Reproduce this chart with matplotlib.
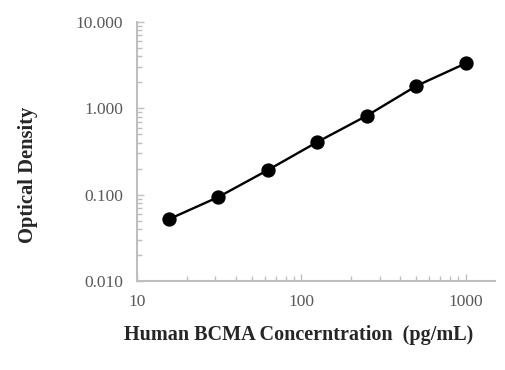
import matplotlib
matplotlib.use('Agg')
import matplotlib.pyplot as plt
from matplotlib.ticker import FixedLocator, LogLocator, NullFormatter

# standard curve: concentration (pg/mL) vs OD
conc = [15.625, 31.25, 62.5, 125, 250, 500, 1000]
od = [0.052, 0.094, 0.193, 0.408, 0.823, 1.82, 3.33]

x_ticks = [10, 100, 1000]
x_labels = ['10', '100', '1000']
y_ticks = [0.01, 0.1, 1, 10]
y_labels = ['0.010', '0.100', '1.000', '10.000']

plt.rcParams['font.family'] = ['Liberation Serif', 'DejaVu Serif']

fig = plt.figure(figsize=(5.06, 3.70), dpi=100)
ax = fig.add_axes([0.2708, 0.2405, 0.978 - 0.2708, 0.9405 - 0.2405])

ax.plot(conc, od, color='black', lw=1.7, marker='o', ms=9.3, mfc='black', mec='black', zorder=3)

ax.set_xscale('log')
ax.set_yscale('log')
ax.set_xlim(10, 1500)
ax.set_ylim(0.01, 10)

ax.xaxis.set_major_locator(FixedLocator(x_ticks))
ax.set_xticklabels(x_labels)
ax.yaxis.set_major_locator(FixedLocator(y_ticks))
ax.set_yticklabels(y_labels)
ax.xaxis.set_minor_locator(LogLocator(base=10, subs=range(2, 10)))
ax.yaxis.set_minor_locator(LogLocator(base=10, subs=range(2, 10)))
ax.xaxis.set_minor_formatter(NullFormatter())
ax.yaxis.set_minor_formatter(NullFormatter())

grey = '#bfbfbf'
for s in ['top', 'right']:
    ax.spines[s].set_visible(False)
for s in ['left', 'bottom']:
    ax.spines[s].set_color(grey)
    ax.spines[s].set_linewidth(1.5)

ax.tick_params(which='major', direction='in', length=5, width=1, color=grey,
               labelsize=12.5, labelcolor='#595959')
ax.tick_params(which='minor', direction='in', length=3.5, width=1, color=grey)
ax.tick_params(axis='y', which='major', pad=10)
ax.tick_params(axis='x', which='major', pad=9)

fig.text(0.056, 0.527, 'Optical Density', rotation=90, ha='center', va='center',
         fontsize=14.8, fontweight='bold', color='#262626')
fig.text(0.245, 0.095, 'Human BCMA Concerntration  (pg/mL)', ha='left', va='center',
         fontsize=14.5, fontweight='bold', color='#262626')

fig.savefig('out.png', dpi=100)
